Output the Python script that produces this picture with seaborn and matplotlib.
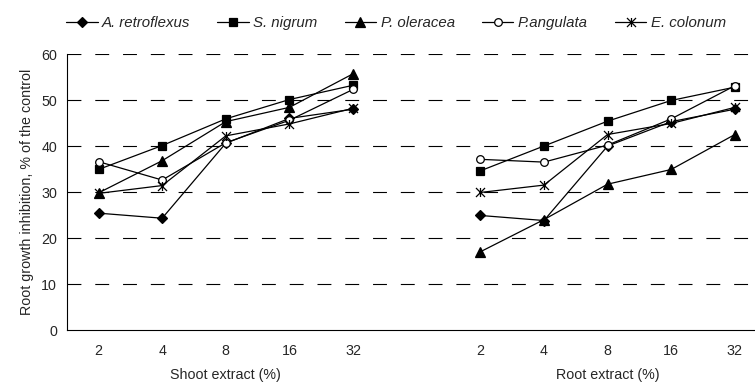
import numpy as np
import pandas as pd
from matplotlib import pyplot as plt
from matplotlib.path import Path
from matplotlib.transforms import blended_transform_factory
import seaborn as sb

sb.set_style('white')
params = {'font.family': ['Liberation Sans', 'DejaVu Sans'],
          'font.size': 10.3,
          'xtick.labelsize': 10.3,
          'ytick.labelsize': 10.3,
          'lines.scale_dashes': False}
plt.rcParams.update(params)

# data
doses = ['2', '4', '8', '16', '32']
species = ['A. retroflexus', 'S. nigrum', 'P. oleracea', 'P.angulata', 'E. colonum']
shoot = {
    'A. retroflexus': [25.4, 24.3, 40.6, 46.0, 48.0],
    'S. nigrum': [34.9, 40.1, 45.9, 50.1, 53.2],
    'P. oleracea': [29.8, 36.8, 45.3, 48.4, 55.7],
    'P.angulata': [36.6, 32.6, 40.7, 45.6, 52.3],
    'E. colonum': [29.7, 31.4, 42.2, 44.8, 48.2],
}
root = {
    'A. retroflexus': [24.9, 23.8, 40.0, 45.3, 48.0],
    'S. nigrum': [34.6, 40.0, 45.4, 49.9, 52.8],
    'P. oleracea': [17.0, 24.0, 31.7, 34.9, 42.5],
    'P.angulata': [37.1, 36.5, 40.2, 45.9, 53.1],
    'E. colonum': [29.9, 31.5, 42.5, 44.9, 48.4],
}

# asterisk marker like excel: x plus vertical bar
star = Path([(0, -1), (0, 1), (-1, -1), (1, 1), (-1, 1), (1, -1)],
            [Path.MOVETO, Path.LINETO, Path.MOVETO, Path.LINETO, Path.MOVETO, Path.LINETO])
styles = {
    'A. retroflexus': dict(marker='D', ms=5, mfc='k'),
    'S. nigrum': dict(marker='s', ms=5.5, mfc='k'),
    'P. oleracea': dict(marker='^', ms=6.5, mfc='k'),
    'P.angulata': dict(marker='o', ms=5.5, mfc='white'),
    'E. colonum': dict(marker=star, ms=6.5, mfc='none'),
}

rows = []
for sp in species:
    for i, d in enumerate(doses):
        rows.append({'species': sp, 'part': 'shoot', 'pos': i, 'value': shoot[sp][i]})
        rows.append({'species': sp, 'part': 'root', 'pos': i + 6, 'value': root[sp][i]})
df = pd.DataFrame(rows)

fig = plt.figure(figsize=(7.55, 3.86), dpi=100)
ax = fig.add_axes([66.7 / 755, 56 / 386, 700 / 755, 276 / 386])

for sp in species:
    for part in ['shoot', 'root']:
        sub = df[(df['species'] == sp) & (df['part'] == part)]
        sb.lineplot(x='pos', y='value', data=sub, ax=ax, color='k', lw=0.9,
                    mec='k', mew=0.9, label=sp if part == 'shoot' else None,
                    legend=False, **styles[sp])

for y in range(10, 70, 10):
    ax.axhline(y, color='k', lw=0.8, ls=(0, (10, 10)), zorder=0)

ax.set_xlim(-0.5, 10.5)
ax.set_ylim(0, 60)
ax.set_yticks(range(0, 70, 10))
ax.set_xticks(np.arange(-0.5, 11, 1))
ax.set_xticklabels([])
ax.set_xticks([0, 1, 2, 3, 4, 6, 7, 8, 9, 10], minor=True)
ax.set_xticklabels(doses + doses, minor=True)
ax.tick_params(axis='x', which='major', direction='out', length=4, width=0.8, color='k')
ax.tick_params(axis='x', which='minor', length=0, pad=10)
ax.tick_params(axis='y', direction='out', length=4, width=0.8, color='k', pad=3)
for s in ['top', 'right']:
    ax.spines[s].set_visible(False)
for s in ['left', 'bottom']:
    ax.spines[s].set_color('k')
    ax.spines[s].set_linewidth(0.8)
ax.set_xlabel('')
ax.set_ylabel('Root growth inhibition, % of the control', labelpad=5)

tr = blended_transform_factory(ax.transData, fig.transFigure)
ax.text(2, 1 - 375 / 386, 'Shoot extract (%)', transform=tr, ha='center', va='center')
ax.text(8, 1 - 375 / 386, 'Root extract (%)', transform=tr, ha='center', va='center')

handles, labels = ax.get_legend_handles_labels()
leg = fig.legend(handles, labels, loc='center', bbox_to_anchor=(396 / 755, 1 - 23 / 386),
                 ncol=5, frameon=False, handlelength=2.1, handletextpad=0.3,
                 columnspacing=1.8, prop={'style': 'italic', 'size': 10.8})

plt.savefig('out.png', dpi=100)
